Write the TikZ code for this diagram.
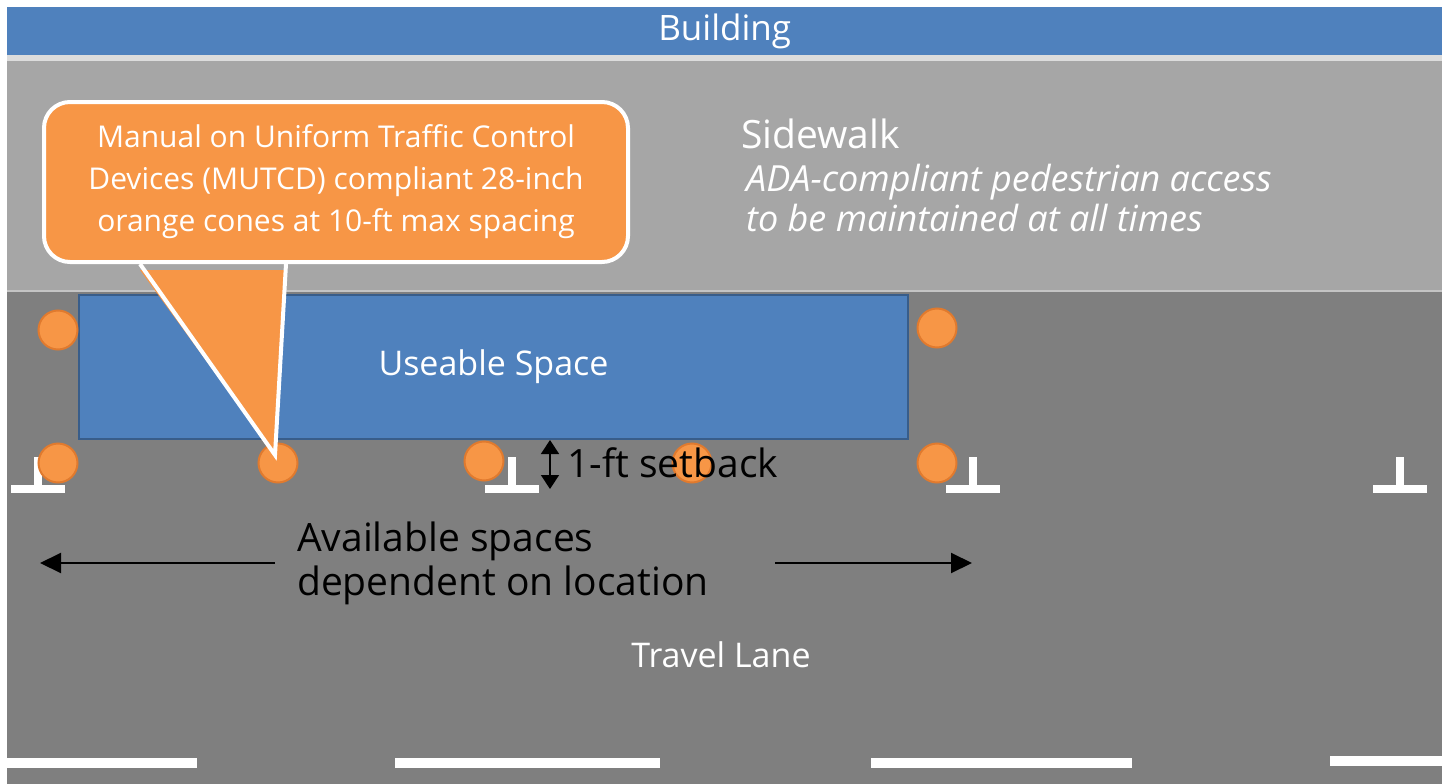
\documentclass[tikz,border=0pt]{standalone}
\usepackage{fontspec}
\setmainfont{Open Sans}
\usetikzlibrary{arrows.meta}

\definecolor{bldg}{HTML}{4F81BD}
\definecolor{bldgedge}{HTML}{385D8A}
\definecolor{walk}{HTML}{A6A6A6}
\definecolor{road}{HTML}{7F7F7F}
\definecolor{cone}{HTML}{F79646}
\definecolor{coneedge}{HTML}{E07A2E}
\definecolor{band}{HTML}{DCDCDC}
\definecolor{curb}{HTML}{C4C4C4}

\tikzset{
  conemark/.style={circle, fill=cone, draw=coneedge, line width=2pt,
    minimum size=39pt, inner sep=0pt},
  callout/.style={rectangle, rounded corners=26pt, fill=cone, draw=white,
    line width=4pt, text=white, align=center, inner sep=0pt,
    font=\fontsize{30}{42}\selectfont},
  whitelabel/.style={text=white, inner sep=0pt},
  blacklabel/.style={text=black, inner sep=0pt},
  dimarrow/.style={line width=2pt, -{Triangle[length=21pt,width=20pt]}},
  setbackarrow/.style={line width=1.5pt,
    {Triangle[length=14pt,width=18pt]}-{Triangle[length=14pt,width=18pt]}},
  stallmark/.pic={
    \fill[white] (-4,-28) rectangle (4,0);
    \fill[white] (-27,0) rectangle (27,8);
  }
}

\begin{document}
\begin{tikzpicture}[x=1pt, y=-1pt]
\useasboundingbox (0,0) rectangle (1449,784);
\fill[white] (0,0) rectangle (1449,784);

% building strip
\node[fill=bldg, minimum width=1435pt, minimum height=48pt, anchor=north west,
      inner sep=0pt, text=white, font=\fontsize{35}{40}\selectfont] (bldg) at (7,7) {Building};
\fill[band] (7,55) rectangle (1442,61);

% sidewalk
\fill[walk] (7,61) rectangle (1442,290);
\fill[curb] (7,290) rectangle (1442,292);

% roadway
\fill[road] (7,292) rectangle (1442,784);

% sidewalk labels
\node[whitelabel, anchor=base west, font=\fontsize{39}{40}\selectfont] (sw) at (741,148) {Sidewalk};
\node[whitelabel, anchor=base west, font=\fontsize{36}{40}\selectfont\itshape] (ada1) at (746,191) {ADA-compliant pedestrian access};
\node[whitelabel, anchor=base west, font=\fontsize{36}{40}\selectfont\itshape] (ada2) at (746,231) {to be maintained at all times};

% useable space
\node[fill=bldg, draw=bldgedge, line width=2pt, minimum width=829pt, minimum height=144pt,
      anchor=north west, inner sep=0pt, text=white, font=\fontsize{34}{36}\selectfont]
      (use) at (78,294) {Useable Space};

% parking stall marks
\pic at (38,485) {stallmark};
\pic at (512,485) {stallmark};
\pic at (973,485) {stallmark};
\pic at (1400,485) {stallmark};

% cones
\node[conemark] (c1) at (58,330) {};
\node[conemark] (c2) at (937,328) {};
\node[conemark] (c3) at (58,463) {};
\node[conemark] (c4) at (278,463) {};
\node[conemark] (c5) at (484,461) {};
\node[conemark] (c6) at (692,463) {};
\node[conemark] (c7) at (937,463) {};

% callout with pointer
\node[callout, minimum width=584pt, minimum height=160pt] (note) at (336,182)
  {Manual on Uniform Traffic Control\\Devices (MUTCD) compliant 28-inch\\orange cones at 10-ft max spacing};
\coordinate (tip) at (275,455);
\fill[cone] ([xshift=-196pt,yshift=-6pt]note.south) -- (tip) -- ([xshift=-50pt,yshift=-6pt]note.south) -- cycle;
\draw[white, line width=4pt] ([xshift=-196pt]note.south) -- (tip) -- ([xshift=-50pt]note.south);

% setback dimension
\coordinate (sbtop) at (550,440);
\coordinate (sbbot) at (550,489);
\draw[setbackarrow] (sbtop) -- (sbbot);
\node[blacklabel, anchor=west, font=\fontsize{39}{40}\selectfont] (setback) at (567,463) {1-ft setback};

% available spaces
\node[blacklabel, anchor=west, align=left, font=\fontsize{39}{44}\selectfont] (avail) at (297,563)
  {Available spaces\\dependent on location};
\coordinate (aLs) at (275,563);
\coordinate (aL) at (40,563);
\coordinate (aRs) at (775,563);
\coordinate (aR) at (972,563);
\draw[dimarrow] (aLs) -- (aL);
\draw[dimarrow] (aRs) -- (aR);

% travel lane
\node[whitelabel, font=\fontsize{34}{36}\selectfont] (lane) at (721,655) {Travel Lane};

% lane line dashes
\fill[white] (7,758) rectangle (197,768);
\fill[white] (395,758) rectangle (660,768);
\fill[white] (871,758) rectangle (1132,768);
\fill[white] (1330,756) rectangle (1442,766);
\end{tikzpicture}
\end{document}
